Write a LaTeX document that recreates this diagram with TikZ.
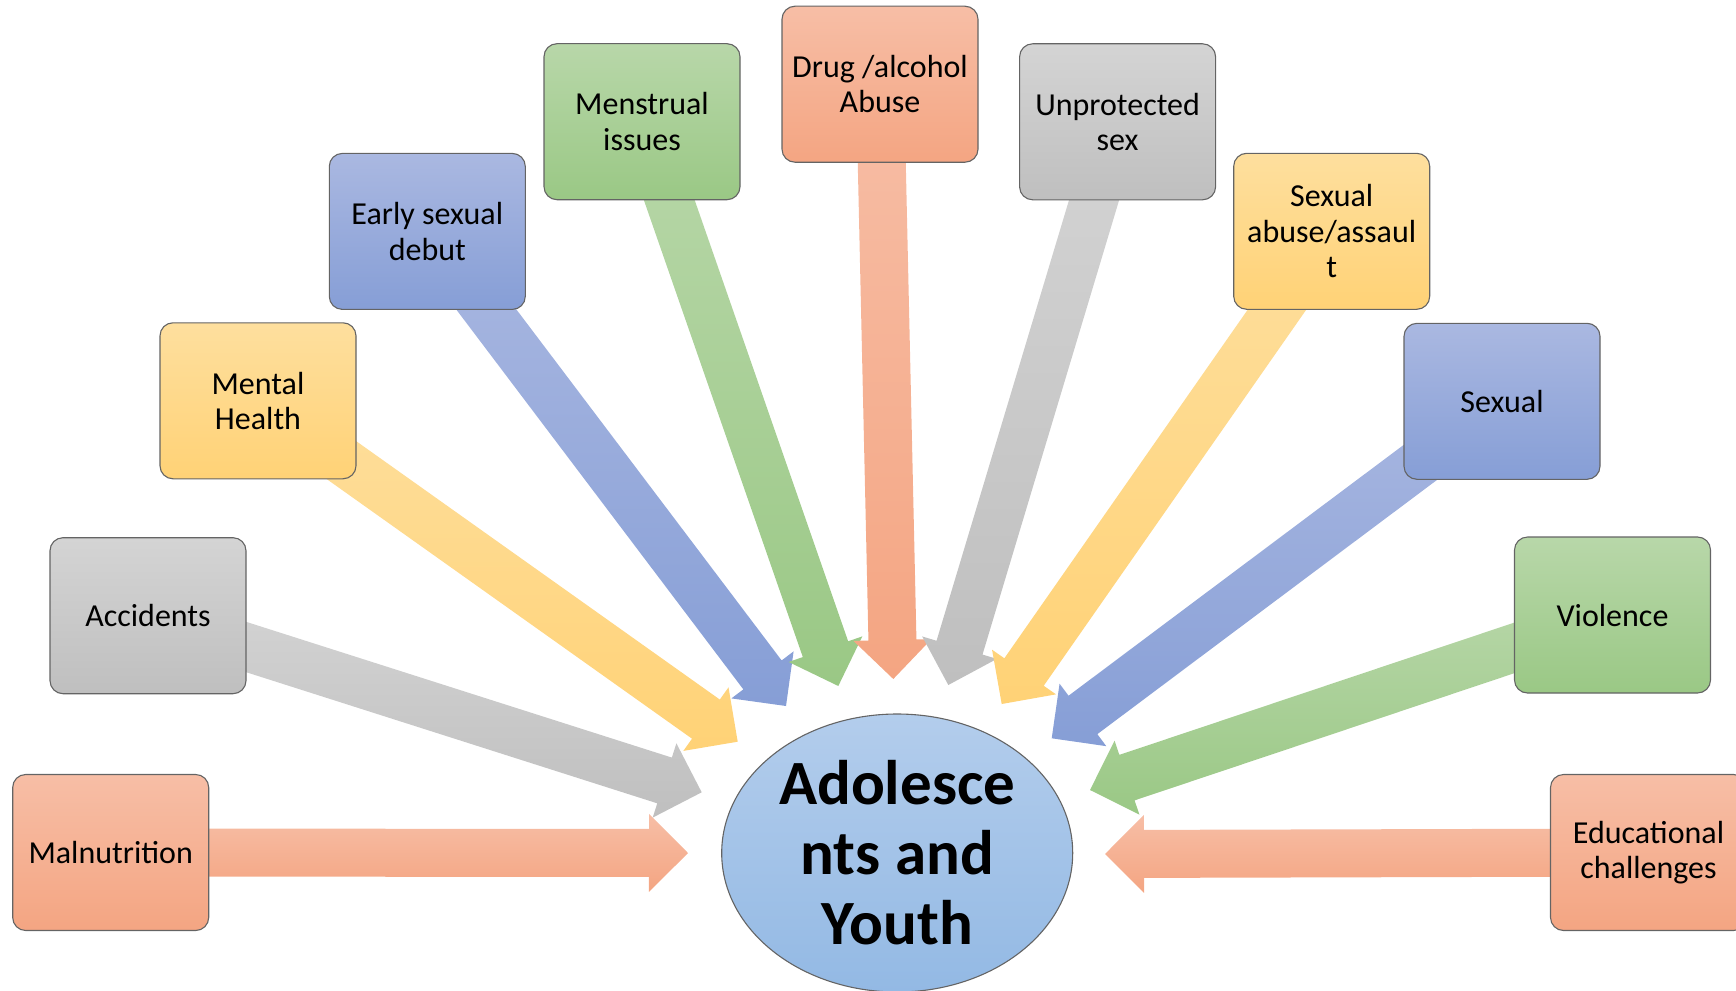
\documentclass[tikz,border=0pt]{standalone}
\usepackage{fontspec}
\setmainfont{Carlito}
\usetikzlibrary{calc,shapes.geometric,backgrounds}
\definecolor{salT}{RGB}{247,190,166}
\definecolor{salB}{RGB}{244,165,130}
\definecolor{gryT}{RGB}{212,212,212}
\definecolor{gryB}{RGB}{191,191,191}
\definecolor{ylwT}{RGB}{254,223,158}
\definecolor{ylwB}{RGB}{255,210,118}
\definecolor{bluT}{RGB}{170,184,225}
\definecolor{bluB}{RGB}{134,158,214}
\definecolor{grnT}{RGB}{184,215,169}
\definecolor{grnB}{RGB}{154,200,133}
\definecolor{ellT}{RGB}{179,205,236}
\definecolor{ellB}{RGB}{147,185,228}
\definecolor{bdr}{RGB}{100,100,100}
\tikzset{
  box/.style={rounded corners=13pt, draw=bdr, line width=1.1pt,
    minimum width=196pt, minimum height=156pt, inner sep=0pt,
    align=center, font=\fontsize{32}{35.5}\selectfont},
  salbox/.style={box, top color=salT, bottom color=salB},
  grybox/.style={box, top color=gryT, bottom color=gryB},
  ylwbox/.style={box, top color=ylwT, bottom color=ylwB},
  blubox/.style={box, top color=bluT, bottom color=bluB},
  grnbox/.style={box, top color=grnT, bottom color=grnB},
  salarr/.style={top color=salT, bottom color=salB},
  gryarr/.style={top color=gryT, bottom color=gryB},
  ylwarr/.style={top color=ylwT, bottom color=ylwB},
  bluarr/.style={top color=bluT, bottom color=bluB},
  grnarr/.style={top color=grnT, bottom color=grnB},
}
\newcommand{\blockarr}[3]{%
  \coordinate (#2h) at ($(#2)!39pt!(#1.center)$);
  \shade[#3] ($(#1.center)!24pt!90:(#2)$) -- ($(#2h)!24pt!90:(#2)$)
    -- ($(#2h)!39pt!90:(#2)$) -- (#2) -- ($(#2h)!39pt!-90:(#2)$)
    -- ($(#2h)!24pt!-90:(#2)$) -- ($(#1.center)!24pt!-90:(#2)$) -- cycle;
}
\begin{document}
\begin{tikzpicture}[x=1pt,y=-1pt]
\useasboundingbox (0,0) rectangle (1736,990);
\clip (0,0) rectangle (1736,990);
% boxes
\node[salbox] (mal) at (110.7,852.5) {Malnutrition};
\node[grybox] (acc) at (148,615.7) {Accidents};
\node[ylwbox] (ment) at (258,400.8) {Mental\\Health};
\node[blubox] (early) at (427.3,231.4) {Early sexual\\debut};
\node[grnbox] (mens) at (642,121.7) {Menstrual\\issues};
\node[salbox] (drug) at (880,84.2) {Drug /alcohol\\Abuse};
\node[grybox] (unp) at (1117.6,121.8) {Unprotected\\sex};
\node[ylwbox] (abuse) at (1331.7,231.3) {Sexual\\abuse/assaul\\t};
\node[blubox] (sex) at (1502,401.3) {Sexual};
\node[grnbox] (viol) at (1612.5,615) {Violence};
\node[salbox] (edu) at (1648.5,852.5) {Educational\\challenges};
% centre
\node[ellipse, draw=bdr, line width=1.1pt, top color=ellT, bottom color=ellB,
  minimum width=351pt, minimum height=278pt, inner sep=0pt, align=center,
  font=\bfseries\fontsize{63}{70}\selectfont] (ay) at (897.2,853) {Adolesce\\nts and\\Youth};
% arrow tips
\coordinate (t1) at (688,853);
\coordinate (t2) at (701.7,792.3);
\coordinate (t3) at (737.7,741.7);
\coordinate (t4) at (786,706);
\coordinate (t5) at (838.3,686);
\coordinate (t6) at (893.3,679);
\coordinate (t7) at (948.3,685);
\coordinate (t8) at (1001.7,704);
\coordinate (t9) at (1051.7,738.3);
\coordinate (t10) at (1090,790);
\coordinate (t11) at (1105,854);
\begin{pgfonlayer}{background}
\blockarr{mal}{t1}{salarr}
\blockarr{acc}{t2}{gryarr}
\blockarr{ment}{t3}{ylwarr}
\blockarr{early}{t4}{bluarr}
\blockarr{mens}{t5}{grnarr}
\blockarr{drug}{t6}{salarr}
\blockarr{unp}{t7}{gryarr}
\blockarr{abuse}{t8}{ylwarr}
\blockarr{sex}{t9}{bluarr}
\blockarr{viol}{t10}{grnarr}
\blockarr{edu}{t11}{salarr}
\end{pgfonlayer}
\end{tikzpicture}
\end{document}
